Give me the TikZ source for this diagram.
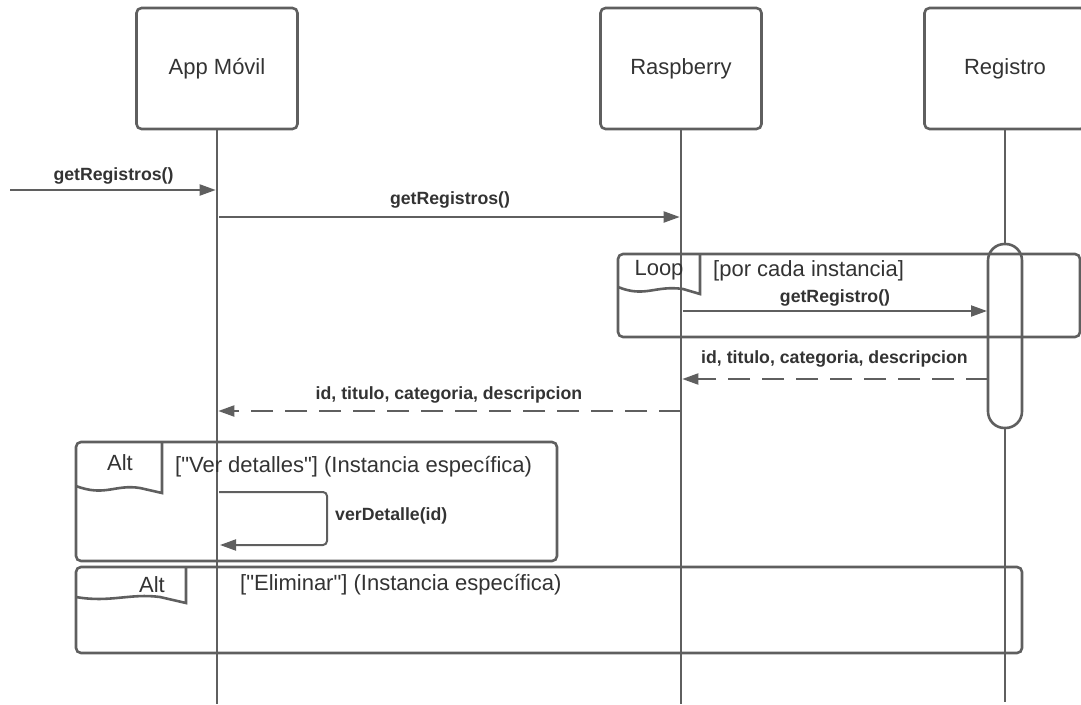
\documentclass[tikz,border=0pt]{standalone}
\usepackage{fontspec}
\setmainfont{Liberation Sans}
\usetikzlibrary{arrows.meta}
\definecolor{linegray}{HTML}{5F5F5F}
\definecolor{textgray}{HTML}{333333}

\begin{document}
\begin{tikzpicture}[
    x=1pt,y=-1pt,
    actor/.style={draw=linegray,line width=2.6pt,rounded corners=5pt,minimum width=161pt,minimum height=121pt,text=textgray,font=\fontsize{22}{26}\selectfont},
    life/.style={draw=linegray,line width=2.6pt},
    msg/.style={draw=linegray,line width=2pt,-{Triangle[length=16pt,width=11pt]}},
    reply/.style={msg,dash pattern=on 22pt off 12pt},
    frame/.style={draw=linegray,line width=2.6pt,rounded corners=5pt},
    lbl/.style={text=textgray,font=\bfseries\fontsize{17.7}{20}\selectfont,inner sep=0pt},
    txt/.style={text=textgray,font=\fontsize{22}{26}\selectfont,inner sep=0pt}
    ]
    \path[use as bounding box,clip] (0,0) rectangle (1081,704);

    % participants
    \node[actor] (app) at (217,68.5) {App Móvil};
    \node[actor] (rasp) at (681,68.5) {Raspberry};
    \node[actor] (reg) at (1005,68.5) {Registro};
    \foreach \p in {app,rasp}
      \draw[life] (\p.south) -- (\p.south |- 0,704);
    \coordinate (barT) at (1005,244);
    \coordinate (barB) at (1005,428);
    \draw[life] (reg.south) -- (barT);
    \draw[life] (barB) -- (1005,702);
    \draw[frame,rounded corners=16.5pt] (988,244) rectangle (1022,428);

    % messages
    \coordinate (m1) at (10,190);
    \draw[msg,shorten >=1.3pt] (m1) -- (m1 -| app) node[midway,above=5pt,lbl] (m1l) {getRegistros()};
    \coordinate (m2) at (219,217);
    \draw[msg,shorten >=1.3pt] (m2) -- (m2 -| rasp) node[midway,above=8pt,lbl] (m2l) {getRegistros()};

    \draw[frame] (618,254) rectangle (1080,337);
    \draw[frame,rounded corners=0pt] (700,254) -- (700,294) -- (683,289) .. controls (655,285) and (645,298) .. (618,287);
    \node[txt] (loop) at (659,270) {Loop};
    \node[txt,anchor=west] (loopc) at (713,271) {[por cada instancia]};

    \coordinate (m3) at (683,311);
    \coordinate (m3b) at (987,311);
    \draw[msg] (m3) -- (m3b) node[midway,above=4pt,lbl] (m3l) {getRegistro()};
    \coordinate (r1) at (988,379);
    \draw[reply,shorten >=1.3pt] (r1) -- (r1 -| rasp) node[midway,above=11pt,lbl] (r1l) {id, titulo, categoria, descripcion};
    \coordinate (r2) at (681,411);
    \draw[reply,shorten >=1.3pt] (r2) -- (r2 -| app) node[midway,above=7pt,lbl] (r2l) {id, titulo, categoria, descripcion};

    % alt blocks
    \draw[frame] (76,442) rectangle (557,561);
    \draw[frame,rounded corners=0pt] (162,442) -- (162,493) -- (140,488) .. controls (115,484) and (105,497) .. (76,486);
    \node[txt] (alt1) at (120,463) {Alt};
    \node[txt,anchor=west] (alt1c) at (175,467) {[\textquotedbl Ver detalles\textquotedbl] (Instancia específica)};
    \coordinate (s1) at (219,492);
    \coordinate (s2) at (220,545);
    \draw[msg,rounded corners=4pt] (s1) -- (327,492) -- (327,545) -- (s2);
    \node[lbl,anchor=west] (selfl) at (335,516) {verDetalle(id)};

    \draw[frame] (76,567) rectangle (1022,653);
    \draw[frame,rounded corners=0pt] (186,567) -- (186,603) -- (160,597) .. controls (130,593) and (110,603) .. (76,597);
    \node[txt] (alt2) at (152,585) {Alt};
    \node[txt,anchor=west] (alt2c) at (240,585) {[\textquotedbl Eliminar\textquotedbl] (Instancia específica)};
  \end{tikzpicture}
\end{document}
